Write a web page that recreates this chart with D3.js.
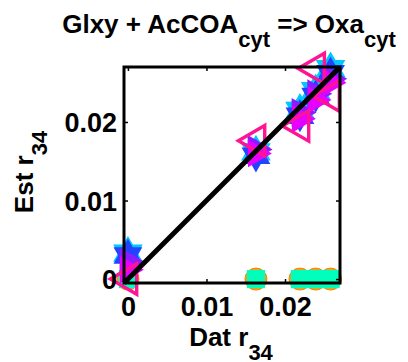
<!DOCTYPE html>
<html>
<head>
<meta charset="utf-8">
<script src="https://cdn.jsdelivr.net/npm/d3@7"></script>
<style>
  html, body { margin: 0; padding: 0; background: #fff; }
  svg { display: block; font-family: "Liberation Sans", Arial, sans-serif; }
</style>
</head>
<body>
<svg id="chart" width="408" height="362"></svg>
<script>
// Measured flux r34 (data) and the estimates from each fitted model
const datR34 = [0, 0.0163, 0.0219, 0.0239, 0.0258];
const estCyanHex = [0.0033, 0.0162, 0.0215, 0.0240, 0.0268];
const estBlueHex = [0.0030, 0.0157, 0.0208, 0.0233, 0.0262];
const estPurpleTri = [0.0022, 0.0165, 0.0212, 0.0236, 0.0255];
const estMagentaTri = [0.0012, 0.0160, 0.0204, 0.0228, 0.0250];
const estPinkTri = [0.0000, 0.0176, 0.0195, 0.0268, 0.0233];
const estZero = [0, 0, 0, 0, 0];
const xTicks = [0, 0.01, 0.02];
const xTickLabels = ["0", "0.01", "0.02"];
const yTicks = [0, 0.01, 0.02];
const yTickLabels = ["0", "0.01", "0.02"];
const xDomain = [-0.0005, 0.027];
const yDomain = [-0.0005, 0.027];

const svg = d3.select("#chart");
const box = { left: 124, right: 340, top: 67, bottom: 283 };

const x = d3.scaleLinear().domain(xDomain).range([box.left, box.right]);
const y = d3.scaleLinear().domain(yDomain).range([box.bottom, box.top]);

// six-pointed star symbol
const hexagram = {
  draw(ctx, size) {
    const r = Math.sqrt(size / 1.3);
    const ri = r * 0.58;
    for (let i = 0; i < 12; i++) {
      const a = -Math.PI / 2 + i * Math.PI / 6;
      const rr = i % 2 === 0 ? r : ri;
      const px = rr * Math.cos(a), py = rr * Math.sin(a);
      if (i === 0) ctx.moveTo(px, py); else ctx.lineTo(px, py);
    }
    ctx.closePath();
  }
};
// triangle pointing right (dir = 1) or left (dir = -1)
function sideTriangle(dir) {
  return {
    draw(ctx, size) {
      const r = Math.sqrt(size / 1.3);
      ctx.moveTo(dir * r, 0);
      ctx.lineTo(-dir * r * 0.5, -r * 0.87);
      ctx.lineTo(-dir * r * 0.5, r * 0.87);
      ctx.closePath();
    }
  };
}

const pts = ys => datR34.map((d, i) => [d, ys[i]]);
const plot = svg.append("g");

function drawSeries(ys, type, size, fill, stroke, sw) {
  plot.append("g").selectAll("path").data(pts(ys)).join("path")
    .attr("transform", d => `translate(${x(d[0])},${y(d[1])})`)
    .attr("d", d3.symbol().type(type).size(size))
    .attr("fill", fill)
    .attr("stroke", stroke)
    .attr("stroke-width", sw);
}

// zero-estimate markers: orange circles under aqua squares
drawSeries(estZero, d3.symbolCircle, 380, "#ff9a1a", "#f08a00", 1);
drawSeries(estZero, d3.symbolSquare, 330, "#00ffbb", "none", 0);
// model estimates
drawSeries(estCyanHex, hexagram, 380, "#00c8ff", "none", 0);
drawSeries(estBlueHex, hexagram, 360, "#2244ff", "none", 0);
drawSeries(estPurpleTri, sideTriangle(1), 360, "#8a1cff", "none", 0);
drawSeries(estMagentaTri, sideTriangle(1), 330, "#e600ff", "none", 0);
drawSeries(estPinkTri, sideTriangle(-1), 400, "none", "#ff1493", 3.4);

// identity line
plot.append("path")
  .datum([[xDomain[0], yDomain[0]], [xDomain[1], yDomain[1]]])
  .attr("d", d3.line().x(d => x(d[0])).y(d => y(d[1])))
  .attr("stroke", "#000").attr("stroke-width", 5).attr("fill", "none");

// axes with inward ticks
const fontTick = "27px";
const xAxis = svg.append("g").attr("transform", `translate(0,${box.bottom})`)
  .call(d3.axisBottom(x).tickValues(xTicks).tickSize(-4).tickPadding(14)
    .tickFormat((d, i) => xTickLabels[i]));
const yAxis = svg.append("g").attr("transform", `translate(${box.left},0)`)
  .call(d3.axisLeft(y).tickValues(yTicks).tickSize(-4).tickPadding(7)
    .tickFormat((d, i) => yTickLabels[i]));
svg.append("g").attr("transform", `translate(0,${box.top})`)
  .call(d3.axisTop(x).tickValues(xTicks).tickSize(-4).tickFormat(""));
svg.append("g").attr("transform", `translate(${box.right},0)`)
  .call(d3.axisRight(y).tickValues(yTicks).tickSize(-4).tickFormat(""));

svg.selectAll(".domain").remove();
svg.selectAll(".tick line").attr("stroke", "#000").attr("stroke-width", 1.5);
[xAxis, yAxis].forEach(a => a.selectAll("text")
  .attr("font-size", fontTick).attr("font-weight", "bold")
  .attr("font-family", "Liberation Sans, Arial, sans-serif").attr("fill", "#000"));
yAxis.selectAll("text").attr("dy", "0.36em");
xAxis.selectAll("text").attr("dy", "0.72em");

svg.append("rect")
  .attr("x", box.left).attr("y", box.top)
  .attr("width", box.right - box.left).attr("height", box.bottom - box.top)
  .attr("fill", "none").attr("stroke", "#000").attr("stroke-width", 3);

// title
const title = svg.append("text").attr("x", 229).attr("y", 33)
  .attr("text-anchor", "middle").attr("font-size", "26px").attr("font-weight", "bold");
title.append("tspan").text("Glxy + AcCOA");
title.append("tspan").attr("dy", 14).attr("font-size", "22px").text("cyt");
title.append("tspan").attr("dy", -14).text(" => Oxa");
title.append("tspan").attr("dy", 14).attr("font-size", "22px").text("cyt");

// x label
const xl = svg.append("text").attr("x", 231).attr("y", 346)
  .attr("text-anchor", "middle").attr("font-size", "26px").attr("font-weight", "bold");
xl.append("tspan").text("Dat r");
xl.append("tspan").attr("dy", 14).attr("font-size", "22px").text("34");

// y label
const yl = svg.append("text").attr("transform", "translate(33,172) rotate(-90)")
  .attr("text-anchor", "middle").attr("font-size", "26px").attr("font-weight", "bold");
yl.append("tspan").text("Est r");
yl.append("tspan").attr("dy", 14).attr("font-size", "22px").text("34");
</script>
</body>
</html>
